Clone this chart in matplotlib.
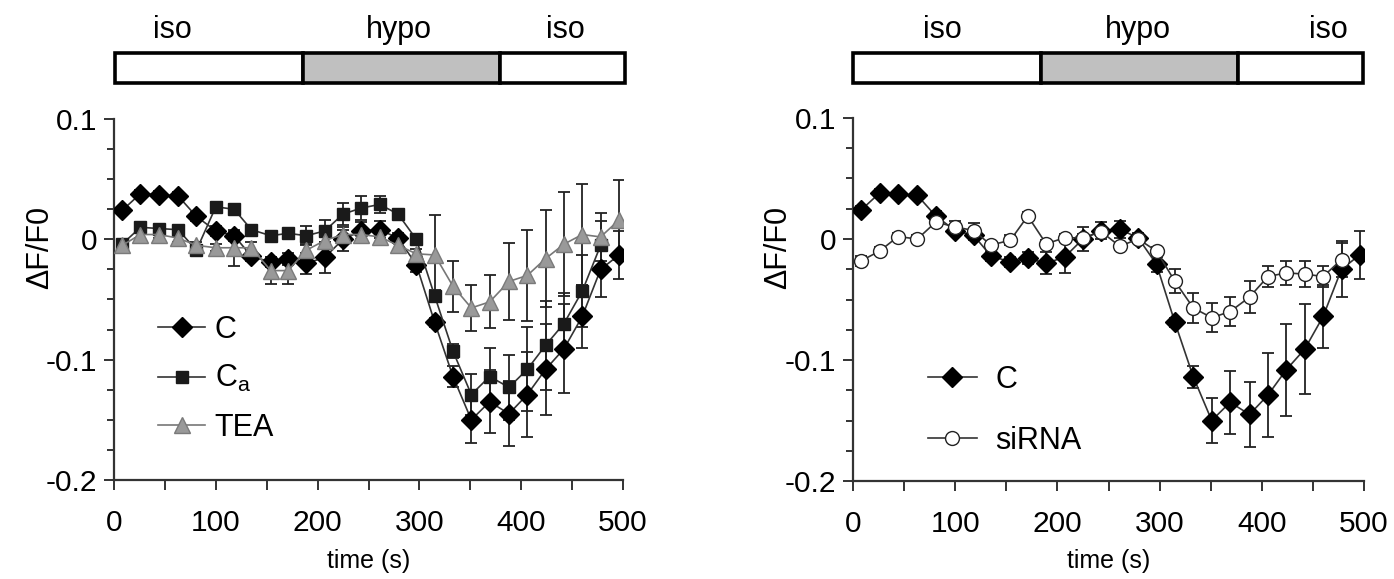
import matplotlib
matplotlib.use("Agg")
import matplotlib.pyplot as plt
from matplotlib.patches import Rectangle
from matplotlib.ticker import MultipleLocator

plt.rcParams['font.family'] = ['Liberation Sans', 'DejaVu Sans']

# ---------------- data ----------------
times = [8, 26, 44, 63, 81, 100, 118, 135, 154, 171, 189, 207, 225, 243,
         261, 279, 297, 315, 333, 351, 369, 388, 406, 424, 442, 460, 478, 496]

c_vals = [0.024, 0.038, 0.037, 0.036, 0.019, 0.007, 0.003, -0.014, -0.019, -0.016,
          -0.020, -0.015, 0.0, 0.007, 0.008, 0.001, -0.021, -0.069, -0.114, -0.150,
          -0.135, -0.145, -0.129, -0.108, -0.091, -0.064, -0.025, -0.013]
c_err = [0.003, 0.003, 0.003, 0.003, 0.004, 0.004, 0.004, 0.004, 0.004, 0.005,
         0.009, 0.013, 0.010, 0.007, 0.007, 0.004, 0.006, 0.004, 0.009, 0.019,
         0.026, 0.027, 0.035, 0.038, 0.037, 0.026, 0.023, 0.020]

ca_vals = [-0.004, 0.010, 0.009, 0.008, -0.009, 0.027, 0.025, 0.008, 0.003, 0.005,
           0.003, 0.007, 0.021, 0.026, 0.029, 0.021, 0.000, -0.047, -0.093, -0.129,
           -0.114, -0.123, -0.108, -0.088, -0.070, -0.043, -0.005]
ca_err = [0.003, 0.003, 0.003, 0.003, 0.003, 0.003, 0.003, 0.003, 0.003, 0.004,
          0.008, 0.009, 0.009, 0.010, 0.007, 0.003, 0.003, 0.005, 0.006, 0.017,
          0.024, 0.027, 0.035, 0.037, 0.025, 0.030, 0.020]

tea_vals = [-0.005, 0.004, 0.004, 0.001, -0.005, -0.007, -0.007, -0.007, -0.026, -0.026,
            -0.009, -0.001, 0.004, 0.004, 0.002, -0.005, -0.012, -0.013, -0.039, -0.057,
            -0.052, -0.035, -0.030, -0.016, -0.004, 0.004, 0.002, 0.016]
tea_err = [0.003, 0.003, 0.003, 0.003, 0.003, 0.003, 0.015, 0.005, 0.011, 0.011,
           0.005, 0.004, 0.004, 0.005, 0.004, 0.004, 0.004, 0.033, 0.021, 0.019,
           0.022, 0.032, 0.038, 0.040, 0.043, 0.042, 0.020, 0.033]

sirna_vals = [-0.018, -0.010, 0.002, 0.0, 0.014, 0.010, 0.007, -0.005, -0.001, 0.019,
              -0.004, 0.001, 0.001, 0.006, -0.006, 0.0, -0.010, -0.035, -0.057, -0.065,
              -0.060, -0.048, -0.031, -0.028, -0.029, -0.031, -0.017]
sirna_err = [0.004, 0.003, 0.003, 0.003, 0.003, 0.005, 0.006, 0.003, 0.004, 0.003,
             0.003, 0.003, 0.003, 0.003, 0.003, 0.003, 0.003, 0.010, 0.0125, 0.012,
             0.012, 0.013, 0.009, 0.010, 0.011, 0.009, 0.014]

phase_edges = [0, 184, 377, 500]
phase_labels = ['iso', 'hypo', 'iso']
phase_fill = ['white', '#c0c0c0', 'white']

x_ticks = [0, 100, 200, 300, 400, 500]
y_ticks = [-0.2, -0.1, 0, 0.1]
y_ticklabels = ['-0.2', '-0.1', '0', '0.1']

# ---------------- figure ----------------
W, H = 1394, 579
fig = plt.figure(figsize=(W / 100, H / 100), dpi=100)


def fx(px):
    return px / W


def fy(py):
    return 1 - py / H


def style_axes(ax, box, ylabel_x):
    x0, x1, y0, y1 = box
    ax.set_xlim(0, 500)
    ax.set_ylim(-0.2, 0.1)
    for s in ['top', 'right']:
        ax.spines[s].set_visible(False)
    for s in ['left', 'bottom']:
        ax.spines[s].set_linewidth(1.6)
        ax.spines[s].set_color('#333333')
    ax.set_xticks(x_ticks)
    ax.set_xticklabels([str(t) for t in x_ticks])
    ax.xaxis.set_minor_locator(MultipleLocator(50))
    ax.set_yticks(y_ticks)
    ax.set_yticklabels(y_ticklabels)
    ax.yaxis.set_minor_locator(MultipleLocator(0.025))
    ax.tick_params(which='major', direction='out', length=7, width=1.4,
                   color='#333333', labelsize=21.5)
    ax.tick_params(axis='x', which='major', pad=14)
    ax.tick_params(axis='y', which='major', pad=5)
    ax.tick_params(which='minor', direction='out', length=5, width=1.4,
                   color='#333333')
    ax.tick_params(axis='x', which='minor', length=7)
    ax.set_xlabel('time (s)', fontsize=18)
    ax.xaxis.set_label_coords(0.5, -(549 - y1) / (y1 - y0))
    ax.set_ylabel('ΔF/F0', fontsize=22)
    ax.yaxis.set_label_coords(-(x0 - ylabel_x) / (x1 - x0), (y1 - 247) / (y1 - y0))


def series(ax, x, y, e, marker, ms, face, edge, line, label):
    ax.errorbar(x, y, yerr=e, fmt='none', ecolor='#222222', elinewidth=1.3,
                capsize=4, capthick=1.3, zorder=2)
    ax.plot(x, y, color=line, lw=1.2, marker=marker, ms=ms, mfc=face,
            mec=edge, mew=1.0, label=label, zorder=3)


def phase_bar(x0_px, x1_px, label_px):
    bax = fig.add_axes([fx(x0_px), fy(84), fx(x1_px - x0_px), 84 / H])
    bax.set_xlim(0, 500)
    bax.set_ylim(0, 84)
    bax.axis('off')
    for i in range(3):
        bax.add_patch(Rectangle((phase_edges[i], 1), phase_edges[i + 1] - phase_edges[i], 30,
                                facecolor=phase_fill[i], edgecolor='black', lw=2.6,
                                clip_on=False))
    for lx, lab in zip(label_px, phase_labels):
        fig.text(fx(lx), fy(30), lab, fontsize=22, ha='center', va='center')


# left panel
L = (114, 623, 119, 480)
axL = fig.add_axes([fx(L[0]), fy(L[3]), fx(L[1] - L[0]), (L[3] - L[2]) / H])
style_axes(axL, L, 55)
series(axL, times, c_vals, c_err, 'D', 10.5, 'black', 'black', '#333333', 'C')
series(axL, times[:len(ca_vals)], ca_vals, ca_err, 's', 8.5, '#1a1a1a', '#1a1a1a', '#333333',
       'C$_\\mathregular{a}$')
series(axL, times, tea_vals, tea_err, '^', 11, '#999999', '#7a7a7a', '#777777', 'TEA')
axL.legend(loc='upper left', bbox_to_anchor=((158 - L[0]) / (L[1] - L[0]),
                                              (L[3] - 315) / (L[3] - L[2])),
           frameon=False, fontsize=22, handlelength=1.55, handletextpad=0.3,
           labelspacing=0.6, borderpad=0, borderaxespad=0)

# right panel
R = (853, 1364, 118, 481)
axR = fig.add_axes([fx(R[0]), fy(R[3]), fx(R[1] - R[0]), (R[3] - R[2]) / H])
style_axes(axR, R, 793)
series(axR, times, c_vals, c_err, 'D', 10.5, 'black', 'black', '#333333', 'C')
series(axR, times[:len(sirna_vals)], sirna_vals, sirna_err, 'o', 10, 'white', '#222222',
       '#333333', 'siRNA')
axR.legend(loc='upper left', bbox_to_anchor=((928 - R[0]) / (R[1] - R[0]),
                                              (R[3] - 365) / (R[3] - R[2])),
           frameon=False, fontsize=22, handlelength=1.6, handletextpad=0.6,
           labelspacing=1.0, borderpad=0, borderaxespad=0)

phase_bar(115, 625, [172, 399, 565])
phase_bar(853, 1363, [942, 1138, 1328])

fig.savefig('out.png', dpi=100)
